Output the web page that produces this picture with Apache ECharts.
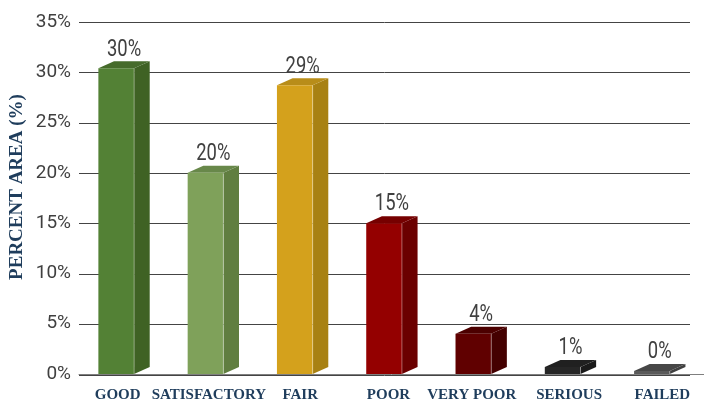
<!DOCTYPE html>
<html>
<head>
<meta charset="utf-8">
<script src="https://cdn.jsdelivr.net/npm/echarts@6/dist/echarts.min.js"></script>
<style>
html,body{margin:0;padding:0;background:#fff;}
#chart{width:704px;height:403px;}
</style>
</head>
<body>
<div id="chart"></div>
<script>
// ---- data ----
const categories = ['GOOD', 'SATISFACTORY', 'FAIR', 'POOR', 'VERY POOR', 'SERIOUS', 'FAILED'];
const values = [30.4, 20.0, 28.7, 15.0, 4.0, 0.7, 0.3];
const valueLabels = ['30%', '20%', '29%', '15%', '4%', '1%', '0%'];
const yTicks = [0, 5, 10, 15, 20, 25, 30, 35];

// ---- styles ----
const frontColors = ['#538135', '#7fa15a', '#d4a11c', '#940000', '#600000', '#262626', '#5a5a5a'];
const sideColors  = ['#3f6224', '#607e40', '#a88113', '#6b0000', '#440000', '#1a1a1a', '#404040'];
const topColors   = ['#466b2b', '#68884a', '#b88d19', '#760000', '#4c0000', '#202020', '#474747'];
const labelShift  = [-6, -4, -2, -3, -9, -1, 3];

const numFont = 'Roboto, "Liberation Sans", sans-serif';
const serifFont = '"Liberation Serif", "DejaVu Serif", serif';
const navy = '#1f3d5c';

const chart = echarts.init(document.getElementById('chart'), null, {renderer: 'canvas'});

const rich = {};
labelShift.forEach((s, i) => {
  rich['c' + i] = {
    color: navy, fontFamily: serifFont, fontWeight: 'bold', fontSize: 15,
    padding: s < 0 ? [0, -2 * s, 0, 0] : [0, 0, 0, 2 * s]
  };
});

const option = {
  animation: false,
  backgroundColor: '#ffffff',
  grid: [
    {left: 79, right: -5, top: 22, bottom: 28},
    {left: 79, right: 14, top: 22, bottom: 28}
  ],
  xAxis: [
    {
      type: 'category', gridIndex: 0, data: categories,
      axisLine: {show: true, lineStyle: {color: '#7f7f7f', width: 1}},
      axisTick: {show: false},
      axisLabel: {
        margin: 14, interval: 0,
        formatter: (v, i) => '{c' + i + '|' + v + '}',
        rich: rich
      }
    },
    {
      type: 'category', gridIndex: 1, data: categories, show: false
    }
  ],
  yAxis: [
    {
      type: 'value', gridIndex: 0, min: 0, max: 35, interval: 5,
      axisLine: {show: false}, axisTick: {show: false},
      splitLine: {show: false},
      axisLabel: {show: true, formatter: v => v + '%', color: '#404040', fontFamily: numFont, fontSize: 19, margin: 8}
    },
    {
      type: 'value', gridIndex: 1, min: 0, max: 35, interval: 5,
      axisLine: {show: false}, axisTick: {show: false}, axisLabel: {show: false},
      splitLine: {show: true, lineStyle: {color: '#444444', width: 1}}
    }
  ],
  graphic: [
    {
      type: 'text', x: 17, y: 187, rotation: Math.PI / 2,
      style: {
        text: 'PERCENT AREA (%)', fill: navy, font: 'bold 19px ' + serifFont,
        textAlign: 'center', textVerticalAlign: 'middle'
      }
    }
  ],
  series: [
    {
      type: 'custom', xAxisIndex: 0, yAxisIndex: 0, z: 5,
      data: values.map((v, i) => [i, v]),
      renderItem: function (params, api) {
        const idx = api.value(0);
        const v = api.value(1);
        const topPt = api.coord([idx, v]);
        const basePt = api.coord([idx, 0]);
        const band = api.size([1, 0])[0];
        const fw = band * 0.4;
        const dx = band * 0.175;
        const dy = 7;
        const x0 = topPt[0] - band * 0.283;
        const x1 = x0 + fw;
        const yt = topPt[1];
        const yb = basePt[1];
        const i = params.dataIndex;
        return {
          type: 'group',
          children: [
            {
              type: 'polygon',
              shape: {points: [[x1, yt], [x1 + dx, yt - dy], [x1 + dx, yb - dy], [x1, yb]]},
              style: {fill: sideColors[i]}
            },
            {
              type: 'polygon',
              shape: {points: [[x0, yt], [x0 + dx, yt - dy], [x1 + dx, yt - dy], [x1, yt]]},
              style: {fill: topColors[i]}
            },
            {
              type: 'rect',
              shape: {x: x0, y: yt, width: fw, height: yb - yt},
              style: {fill: frontColors[i]}
            },
            {
              type: 'line',
              shape: {x1: x1, y1: yt, x2: x1, y2: yb},
              style: {stroke: 'rgba(255,255,255,0.35)', lineWidth: 1}
            },
            {
              type: 'text',
              x: x0 + (fw + dx) / 2, y: yt - dy,
              scaleX: 0.8,
              style: {
                text: valueLabels[i], fill: '#404040', font: '23px ' + numFont,
                textAlign: 'center', textVerticalAlign: 'bottom'
              }
            }
          ]
        };
      }
    }
  ]
};
chart.setOption(option);
</script>
</body>
</html>
